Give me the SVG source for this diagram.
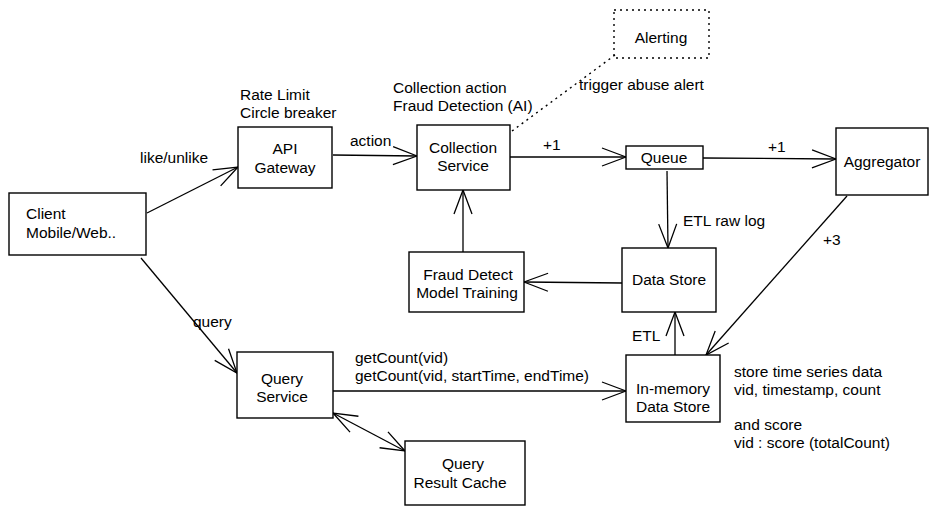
<svg xmlns="http://www.w3.org/2000/svg" width="938" height="511" viewBox="0 0 938 511">
<style>
.box{fill:#fff;stroke:#000;stroke-width:1.4}
.dot{fill:none;stroke:#000;stroke-width:1.4;stroke-dasharray:2 4}
.t{font-family:"Liberation Sans",Arial,sans-serif;font-size:15.5px;fill:#000}
.c{text-anchor:middle}
.ln{fill:none;stroke:#000;stroke-width:1.3}
</style>
<defs>
<marker id="ah" viewBox="0 0 26 22" refX="25" refY="11" markerWidth="26" markerHeight="22" markerUnits="userSpaceOnUse" orient="auto-start-reverse">
<path d="M1,2 L25,11 L1,20" fill="none" stroke="#000" stroke-width="1.3"/>
</marker>
</defs>
<rect width="938" height="511" fill="#fff"/>
<g id="connectors">
<line class="ln" x1="147" y1="213" x2="238" y2="167" marker-end="url(#ah)"/>
<line class="ln" x1="141" y1="258" x2="237" y2="373" marker-end="url(#ah)"/>
<line class="ln" x1="333" y1="155" x2="417" y2="156" marker-end="url(#ah)"/>
<line class="ln" x1="510" y1="157" x2="626" y2="157" marker-end="url(#ah)"/>
<line class="ln" x1="703" y1="158" x2="836" y2="159" marker-end="url(#ah)"/>
<line class="ln" x1="667" y1="171" x2="668" y2="248" marker-end="url(#ah)"/>
<line class="ln" x1="622" y1="283" x2="524" y2="282" marker-end="url(#ah)"/>
<line class="ln" x1="463" y1="252" x2="463" y2="190" marker-end="url(#ah)"/>
<line class="ln" x1="847" y1="196" x2="706" y2="355" marker-end="url(#ah)"/>
<line class="ln" x1="675" y1="355" x2="675" y2="312" marker-end="url(#ah)"/>
<line class="ln" x1="333" y1="391" x2="626" y2="391" marker-end="url(#ah)"/>
<line class="ln" x1="333" y1="413" x2="405" y2="451" marker-start="url(#ah)" marker-end="url(#ah)"/>
<line class="dot" x1="512" y1="131" x2="615" y2="55"/>
</g>
<g id="labels">
<text class="t" x="140" y="163">like/unlike</text>
<text class="t" x="240" y="100">Rate Limit</text>
<text class="t" x="240" y="118">Circle breaker</text>
<text class="t" x="350" y="146">action</text>
<text class="t" x="393" y="93">Collection action</text>
<text class="t" x="393" y="111">Fraud Detection (AI)</text>
<text class="t" x="579" y="90">trigger abuse alert</text>
<text class="t" x="543" y="150">+1</text>
<text class="t" x="768" y="152">+1</text>
<text class="t" x="683" y="226">ETL raw log</text>
<text class="t" x="823" y="245">+3</text>
<text class="t" x="632" y="341">ETL</text>
<text class="t" x="193" y="327">query</text>
<text class="t" x="355" y="363">getCount(vid)</text>
<text class="t" x="355" y="381">getCount(vid, startTime, endTime)</text>
<text class="t" x="734" y="377">store time series data</text>
<text class="t" x="734" y="395">vid, timestamp, count</text>
<text class="t" x="734" y="430">and score</text>
<text class="t" x="734" y="448">vid : score (totalCount)</text>
</g>
<g id="client">
<rect class="box" x="9" y="193" width="137" height="62"/>
<text class="t" x="26" y="219">Client</text>
<text class="t" x="26" y="238">Mobile/Web..</text>
</g>
<g id="api-gateway">
<rect class="box" x="238" y="127" width="94" height="61"/>
<text class="t c" x="285" y="154">API</text>
<text class="t c" x="285" y="173">Gateway</text>
</g>
<g id="collection-service">
<rect class="box" x="417" y="125" width="93" height="65"/>
<text class="t c" x="463" y="153">Collection</text>
<text class="t c" x="463" y="171">Service</text>
</g>
<g id="alerting">
<rect class="dot" x="614" y="10" width="95" height="48"/>
<text class="t c" x="661" y="43">Alerting</text>
</g>
<g id="queue">
<rect class="box" x="626" y="146" width="77" height="23"/>
<text class="t c" x="664" y="163">Queue</text>
</g>
<g id="aggregator">
<rect class="box" x="836" y="128" width="92" height="67"/>
<text class="t c" x="882" y="167">Aggregator</text>
</g>
<g id="data-store">
<rect class="box" x="622" y="248" width="94" height="64"/>
<text class="t c" x="669" y="285">Data Store</text>
</g>
<g id="fraud-detect">
<rect class="box" x="409" y="252" width="115" height="60"/>
<text class="t c" x="468" y="280">Fraud Detect</text>
<text class="t c" x="467" y="298">Model Training</text>
</g>
<g id="in-memory">
<rect class="box" x="626" y="355" width="94" height="67"/>
<text class="t c" x="673" y="394">In-memory</text>
<text class="t c" x="673" y="412">Data Store</text>
</g>
<g id="query-service">
<rect class="box" x="237" y="352" width="96" height="66"/>
<text class="t c" x="282" y="384">Query</text>
<text class="t c" x="282" y="402">Service</text>
</g>
<g id="query-cache">
<rect class="box" x="405" y="441" width="120" height="64"/>
<text class="t c" x="463" y="469">Query</text>
<text class="t c" x="460" y="488">Result Cache</text>
</g>
</svg>
